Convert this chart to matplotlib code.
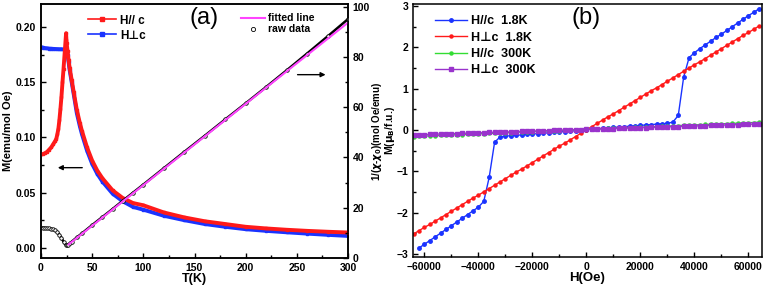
import numpy as np
import matplotlib
matplotlib.use('Agg')
import matplotlib.pyplot as plt
from matplotlib.lines import Line2D
from matplotlib.ticker import MultipleLocator

plt.rcParams['font.family'] = ['Liberation Sans', 'DejaVu Sans']
plt.rcParams['font.weight'] = 'bold'
plt.rcParams['mathtext.fontset'] = 'dejavusans'

# ---- panel (a): M(T) ----
T_par = [2, 4, 6, 8, 10, 12, 14, 15, 16, 17, 18, 19, 20, 21, 22, 23, 24, 24.5, 25, 26, 27, 28,
         30, 32, 35, 38, 40, 45, 50, 55, 60, 70, 80, 90, 100, 120, 140, 160, 180, 200, 220,
         240, 260, 280, 300]
M_par = [0.085, 0.0858, 0.087, 0.089, 0.091, 0.094, 0.097, 0.099, 0.103, 0.108, 0.116, 0.126,
         0.137, 0.150, 0.162, 0.175, 0.188, 0.1945, 0.186, 0.178, 0.170, 0.163, 0.152, 0.141,
         0.125, 0.113, 0.106, 0.091, 0.079, 0.070, 0.063, 0.052, 0.045, 0.0405, 0.0385, 0.032,
         0.0275, 0.024, 0.0215, 0.019, 0.0175, 0.0163, 0.0153, 0.0145, 0.0138]

T_perp = [2, 4, 6, 8, 10, 12, 14, 16, 18, 20, 22, 24, 25, 26, 27, 28, 30, 32, 35, 38, 40, 45,
          50, 55, 60, 70, 80, 90, 100, 120, 140, 160, 180, 200, 220, 240, 260, 280, 300]
M_perp = [0.1815, 0.181, 0.1808, 0.1806, 0.1805, 0.1803, 0.1802, 0.1801, 0.180, 0.180, 0.1798,
          0.1795, 0.178, 0.175, 0.168, 0.161, 0.150, 0.139, 0.122, 0.110, 0.103, 0.088, 0.076,
          0.067, 0.060, 0.049, 0.042, 0.037, 0.0345, 0.029, 0.025, 0.0215, 0.019, 0.0168,
          0.0153, 0.014, 0.0128, 0.0117, 0.0107]

# inverse susceptibility (right axis)
T_raw = [2, 4, 6, 8, 10, 12, 14, 16, 18, 20, 22, 24, 25, 26, 28, 30, 35, 40, 50, 60, 70, 80,
         90, 100, 120, 140, 160, 180, 200, 220, 240, 260, 280, 300]
inv_raw = [12.1, 12.0, 11.9, 11.8, 11.6, 11.4, 11.0, 10.3, 9.3, 8.0, 6.5, 5.3, 5.0, 5.2, 5.8,
           6.5, 8.2, 9.8, 13.1, 16.3, 19.5, 22.8, 26.0, 29.2, 35.7, 42.2, 48.6, 55.1, 61.5,
           68.0, 74.6, 81.3, 88.1, 95.0]
T_fit = [27, 300]
inv_fit = [5.4, 93.6]

# ---- panel (b): M(H) ----
H_grid = np.arange(-64000, 64001, 2000)
M_perp_18 = [-2.52, -2.44, -2.36, -2.29, -2.21, -2.13, -2.05, -1.97, -1.89, -1.81, -1.73,
             -1.65, -1.58, -1.50, -1.42, -1.34, -1.26, -1.18, -1.10, -1.02, -0.95, -0.87,
             -0.79, -0.71, -0.63, -0.55, -0.47, -0.39, -0.32, -0.24, -0.16, -0.08, 0.00,
             0.08, 0.16, 0.24, 0.32, 0.39, 0.47, 0.55, 0.63, 0.71, 0.79, 0.87, 0.95, 1.02,
             1.10, 1.18, 1.26, 1.34, 1.42, 1.50, 1.58, 1.65, 1.73, 1.81, 1.89, 1.97, 2.05,
             2.13, 2.21, 2.29, 2.36, 2.44, 2.52]
M_par_300 = [-0.160, -0.154, -0.149, -0.144, -0.138, -0.133, -0.127, -0.122, -0.117, -0.111,
             -0.106, -0.100, -0.095, -0.090, -0.084, -0.079, -0.073, -0.068, -0.063, -0.057,
             -0.052, -0.046, -0.041, -0.036, -0.030, -0.025, -0.019, -0.014, -0.009, -0.003,
             0.002, 0.008, 0.013, 0.018, 0.024, 0.029, 0.035, 0.040, 0.045, 0.051, 0.056,
             0.062, 0.067, 0.072, 0.078, 0.083, 0.089, 0.094, 0.099, 0.105, 0.110, 0.116,
             0.121, 0.126, 0.132, 0.137, 0.143, 0.148, 0.153, 0.159, 0.164, 0.170, 0.175,
             0.180, 0.186]
M_perp_300 = [-0.120, -0.116, -0.112, -0.108, -0.103, -0.099, -0.095, -0.091, -0.087, -0.083,
              -0.079, -0.074, -0.070, -0.066, -0.062, -0.058, -0.054, -0.050, -0.045, -0.041,
              -0.037, -0.033, -0.029, -0.025, -0.021, -0.016, -0.012, -0.008, -0.004, 0.000,
              0.004, 0.008, 0.013, 0.017, 0.021, 0.025, 0.029, 0.033, 0.037, 0.041, 0.046,
              0.050, 0.054, 0.058, 0.062, 0.066, 0.070, 0.075, 0.079, 0.083, 0.087, 0.091,
              0.095, 0.099, 0.104, 0.108, 0.112, 0.116, 0.120, 0.124, 0.128, 0.133, 0.137,
              0.141, 0.145]
H_par_18 = np.arange(-62000, 64001, 2000)
M_par_18 = [-2.86, -2.77, -2.68, -2.59, -2.50, -2.41, -2.32, -2.23, -2.14, -2.05, -1.96,
            -1.87, -1.73, -1.15, -0.30, -0.17, -0.15, -0.14, -0.13, -0.12, -0.11, -0.10,
            -0.09, -0.08, -0.07, -0.06, -0.05, -0.04, -0.03, -0.02, -0.01, 0.00,
            0.02, 0.03, 0.04, 0.05, 0.06, 0.07, 0.08, 0.09, 0.10, 0.11, 0.12, 0.13, 0.14,
            0.15, 0.16, 0.19, 0.35, 1.28, 1.75, 1.87, 1.97, 2.06, 2.15, 2.24, 2.32, 2.41,
            2.50, 2.59, 2.68, 2.77, 2.85, 2.94]

c_red = '#ff1a1a'
c_blue = '#1a33ff'
c_green = '#33dd33'
c_purple = '#9933cc'
c_mag = '#ff44ff'

fig = plt.figure(figsize=(7.63, 2.89), dpi=100)
ax1 = fig.add_axes([41 / 763, 1 - 258 / 289, 307 / 763, 254 / 289])
ax2 = ax1.twinx()
axb = fig.add_axes([413 / 763, 1 - 256.7 / 289, 349 / 763, 252.7 / 289])

tick_kw = dict(direction='in', labelsize=7.5, width=1)

# left panel curves
ax1.plot(T_par, M_par, color=c_red, lw=2.8, marker='s', ms=2, zorder=3)
ax1.plot(T_perp, M_perp, color=c_blue, lw=2.8, marker='s', ms=2, zorder=2)
ax1.set_xlim(0, 300)
ax1.set_ylim(-0.0093, 0.221)
ax1.set_xlabel('T(K)', fontsize=9, fontweight='bold', labelpad=0)
ax1.set_ylabel('M(emu/mol Oe)', fontsize=8, fontweight='bold', labelpad=2)
ax1.xaxis.set_major_locator(MultipleLocator(50))
ax1.xaxis.set_minor_locator(MultipleLocator(25))
ax1.yaxis.set_major_locator(MultipleLocator(0.05))
ax1.yaxis.set_minor_locator(MultipleLocator(0.025))
ax1.yaxis.set_major_formatter(matplotlib.ticker.FormatStrFormatter('%.2f'))
ax1.tick_params(which='both', **tick_kw)
ax1.tick_params(which='major', length=3.5)
ax1.tick_params(which='minor', length=2)

ax2.plot(T_raw, inv_raw, color='black', lw=1.8, marker='o', ms=2.5, mfc='white', mew=0.6)
ax2.plot(T_fit, inv_fit, color=c_mag, lw=1.5)
ax2.set_ylim(0, 101)
ax2.set_ylabel(r'1/($\chi$-$\chi_0$)(mol Oe/emu)', fontsize=7, fontweight='bold')
ax2.yaxis.set_label_coords(1.072, 0.5)
ax2.yaxis.set_major_locator(MultipleLocator(20))
ax2.yaxis.set_minor_locator(MultipleLocator(10))
ax2.tick_params(which='both', **tick_kw)
ax2.tick_params(which='major', length=3.5)
ax2.tick_params(which='minor', length=2)

ax1.annotate('', xy=(13.7, 0.0726), xytext=(43, 0.0726),
             arrowprops=dict(arrowstyle='-|>', color='black', lw=1, mutation_scale=7))
ax2.annotate('', xy=(280.8, 72.9), xytext=(248, 72.9),
             arrowprops=dict(arrowstyle='-|>', color='black', lw=1, mutation_scale=7))

ax1.text(0.53, 0.99, '(a)', transform=ax1.transAxes, fontsize=17, fontweight='normal',
         ha='center', va='top')

h_a1 = [Line2D([], [], color=c_red, lw=1.2, marker='s', ms=2.5),
        Line2D([], [], color=c_blue, lw=1.2, marker='s', ms=2.5)]
ax1.legend(h_a1, ['H// c', 'H\u22a5c'], loc='upper left', bbox_to_anchor=(0.12, 1.0),
           frameon=False, handlelength=2.3, handletextpad=0.4,
           labelspacing=0.25, prop={'weight': 'bold', 'size': 8.5})
h_a2 = [Line2D([], [], color=c_mag, lw=1.5),
        Line2D([], [], color='black', lw=0, marker='o', ms=3, mfc='white', mew=0.6)]
ax2.legend(h_a2, ['fitted line', 'raw data'], loc='upper left', bbox_to_anchor=(0.62, 1.0),
           frameon=False, handlelength=2.3, handletextpad=0.3, labelspacing=0.1,
           prop={'weight': 'bold', 'size': 7.5})

# right panel curves
axb.plot(H_par_18, M_par_18, color=c_blue, lw=1, marker='o', ms=2.5, label='H//c  1.8K')
axb.plot(H_grid, M_perp_18, color=c_red, lw=1, marker='o', ms=2.2, label='H\u22a5c  1.8K')
axb.plot(H_grid, M_par_300, color=c_green, lw=1, marker='o', ms=2.2, label='H//c  300K')
axb.plot(H_grid, M_perp_300, color=c_purple, lw=1, marker='s', ms=2.2, label='H\u22a5c  300K')
axb.set_xlim(-64200, 65000)
axb.set_ylim(-3.07, 3.05)
axb.set_xlabel('H(Oe)', fontsize=9.5, fontweight='bold', labelpad=0)
axb.set_ylabel(r'M($\mathbf{\mu_B}$/f.u.)', fontsize=7.5, fontweight='bold')
axb.yaxis.set_label_coords(-0.046, 0.5)
axb.xaxis.set_major_locator(MultipleLocator(20000))
axb.xaxis.set_minor_locator(MultipleLocator(10000))
axb.yaxis.set_major_locator(MultipleLocator(1))
axb.yaxis.set_minor_locator(MultipleLocator(0.5))
axb.tick_params(which='both', **tick_kw)
axb.tick_params(which='major', length=3.5)
axb.tick_params(which='minor', length=2)
axb.legend(loc='upper left', bbox_to_anchor=(0.03, 1.0), frameon=False, handlelength=2.6,
           handletextpad=0.3, labelspacing=0.35, prop={'weight': 'bold', 'size': 9})
axb.text(0.495, 0.99, '(b)', transform=axb.transAxes, fontsize=17, fontweight='normal',
         ha='center', va='top')

for ax in (ax1, ax2, axb):
    for s in ax.spines.values():
        s.set_linewidth(1.1)

fig.savefig('out.png', dpi=100)
